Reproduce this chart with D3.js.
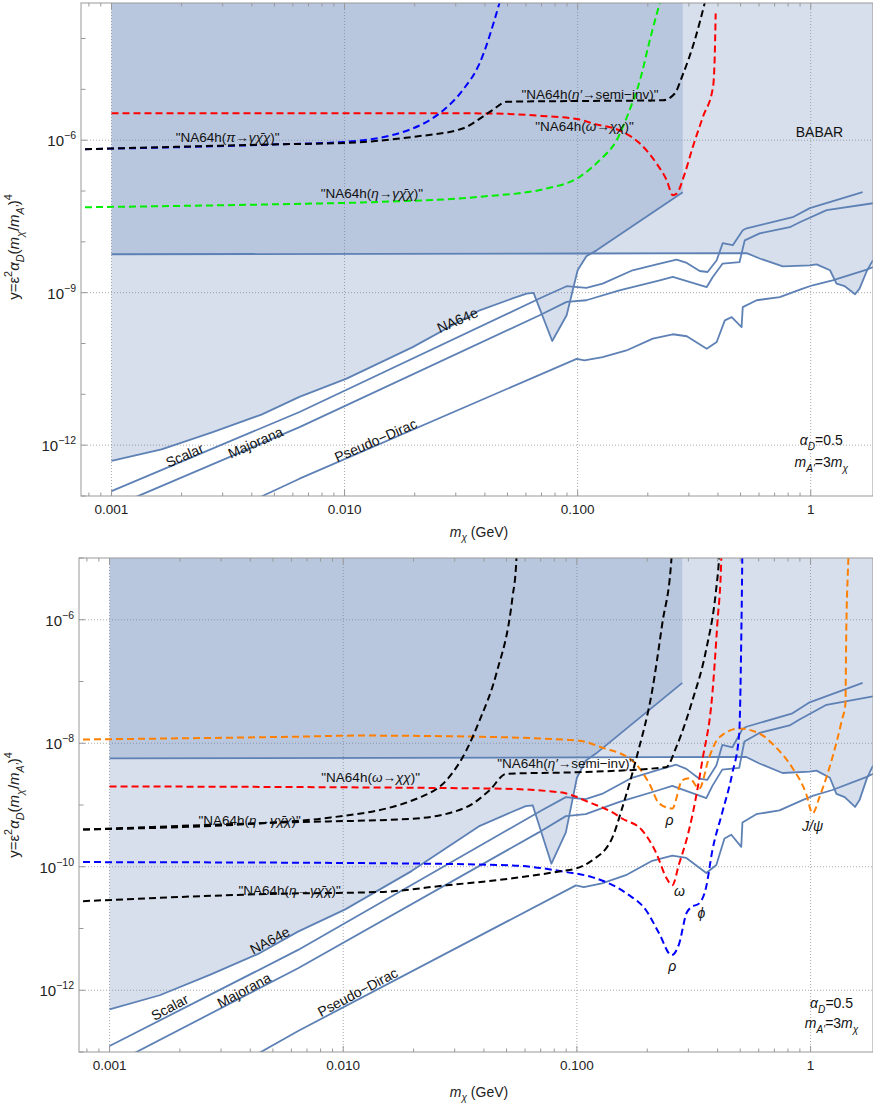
<!DOCTYPE html>
<html>
<head>
<meta charset="utf-8">
<script src="https://cdn.jsdelivr.net/npm/d3@7"></script>
<style>
body { margin: 0; background: #fff; }
svg { display: block; font-family: 'Liberation Sans', Arial, sans-serif; }
</style>
</head>
<body>
<div id="viz-container"></div>
<script>
// ---- axis values ----
var massDomain = [0.00074, 1.85];
var massTicks = [0.001, 0.01, 0.1, 1];
var massTickLabels = ['0.001', '0.010', '0.100', '1'];
var topLabelExps = [-6, -9, -12];
var botLabelExps = [-6, -8, -10, -12];

// ---- solid (experimental bounds / relic targets), same in both panels ----
var na64e = [[0.001,4.9e-13],[0.00164,8.3e-13],[0.0027,1.79e-12],[0.0044,4.0e-12],[0.0064,8.9e-12],[0.0102,2.04e-11],[0.0196,8.5e-11],[0.038,4.5e-10],[0.0526,7.7e-10],[0.0604,9.6e-10],[0.0647,9.9e-10],[0.0778,1.12e-10],[0.0897,3.6e-10],[0.1,2.76e-9],[0.109,5.2e-9],[0.1206,6.8e-9],[0.2825,9.5e-8]];
var babar = [[0.001,5.7e-9],[0.1,5.9e-9],[0.531,6.0e-9],[0.604,4.7e-9],[0.759,3.3e-9],[0.991,3.46e-9],[1.06,3.6e-9],[1.21,2.76e-9],[1.29,1.51e-9],[1.40,1.34e-9],[1.55,9.3e-10],[1.62,1.2e-9],[1.74,2.67e-9],[1.85,4.35e-9]];
var scalar = [[0.001,1.25e-13],[0.00641,4.5e-12],[0.0708,8.2e-10],[0.0897,1.34e-9],[0.109,1.24e-9],[0.128,1.51e-9],[0.172,2.76e-9],[0.225,3.74e-9],[0.266,4.49e-9],[0.294,3.85e-9],[0.334,2.67e-9],[0.361,2.55e-9],[0.395,4.35e-9],[0.419,9.4e-9],[0.463,8.6e-9],[0.511,1.69e-8],[0.531,1.85e-8],[0.837,3.05e-8],[0.991,4.6e-8],[1.67,9.5e-8]];
var majorana = [[0.001,5.9e-14],[0.00129,9.8e-14],[0.00641,2.27e-12],[0.0687,3.6e-10],[0.0897,6.6e-10],[0.109,7.1e-10],[0.151,1.11e-9],[0.225,1.75e-9],[0.256,2.04e-9],[0.358,1.29e-9],[0.38,2.04e-9],[0.419,3.74e-9],[0.495,4.0e-9],[0.505,5.9e-9],[0.521,1.07e-8],[0.604,1.47e-8],[0.813,1.94e-8],[0.897,2.43e-8],[1.17,4.2e-8],[1.85,5.75e-8]];
var pseudoDirac = [[0.004,8.0e-14],[0.0044,9.8e-14],[0.00641,2.19e-13],[0.099,5.0e-11],[0.107,4.67e-11],[0.128,5.4e-11],[0.162,7.3e-11],[0.21,1.25e-10],[0.256,1.52e-10],[0.294,1.39e-10],[0.358,7.9e-11],[0.395,1.07e-10],[0.428,2.86e-10],[0.458,3.3e-10],[0.505,2.1e-10],[0.511,5.2e-10],[0.586,7.1e-10],[0.736,8.2e-10],[0.924,1.2e-9],[1.02,1.4e-9],[1.24,1.75e-9],[1.74,2.85e-9],[1.85,3.2e-9]];

// ---- dashed NA64h projections, upper panel ----
var topOmega = [[0.001,3.4e-6],[0.02,3.4e-6],[0.0431,3.35e-6],[0.07,3.0e-6],[0.102,2.55e-6],[0.116,2.13e-6],[0.156,1.46e-6],[0.185,8.6e-7],[0.218,3.48e-7],[0.241,1.63e-7],[0.256,8.3e-8],[0.266,8.9e-8],[0.288,2.2e-7],[0.312,7.4e-7],[0.345,2.9e-6],[0.381,1.12e-5],[0.388,5.9e-5],[0.391,3.1e-4]];
var topPi = [[0.00077,6.65e-7],[0.00526,8.3e-7],[0.0102,9.3e-7],[0.0196,1.7e-6],[0.0256,3.4e-6],[0.0321,9.6e-6],[0.0379,3.2e-5],[0.0462,5e-4]];
var topEtaPrime = [[0.00077,6.65e-7],[0.00526,8.3e-7],[0.0102,8.85e-7],[0.0196,1.16e-6],[0.0321,1.7e-6],[0.0431,3.9e-6],[0.0495,5.7e-6],[0.1,5.9e-6],[0.232,6.1e-6],[0.261,8.3e-6],[0.282,1.9e-5],[0.318,9.3e-5],[0.351,5e-4]];
var topEta = [[0.00077,4.8e-8],[0.00526,5.5e-8],[0.0141,6.1e-8],[0.038,7.7e-8],[0.0736,1.12e-7],[0.102,1.9e-7],[0.124,4.0e-7],[0.147,1e-6],[0.167,3.9e-6],[0.185,1.5e-5],[0.204,9.3e-5],[0.225,5e-4]];

// ---- dashed NA64h projections, lower panel ----
var botOrange = [[0.00077,1.15e-8],[0.0065,1.28e-8],[0.0117,1.33e-8],[0.0357,1.28e-8],[0.102,1.1e-8],[0.128,8.5e-9],[0.173,5.2e-9],[0.204,2.23e-9],[0.225,1.06e-9],[0.256,8.8e-10],[0.282,2.5e-9],[0.303,2.7e-9],[0.334,1.85e-9],[0.368,5.9e-9],[0.406,1.24e-8],[0.495,1.73e-8],[0.603,1.44e-8],[0.713,8.5e-9],[0.834,4.05e-9],[0.957,1.53e-9],[1.02,7.3e-10],[1.09,1.32e-9],[1.24,5.9e-9],[1.36,2.33e-8],[1.41,4.4e-8],[1.42,4.6e-7],[1.45,9e-6],[1.46,2e-5]];
var botOmega = [[0.001,2.0e-9],[0.0434,1.85e-9],[0.0841,1.61e-9],[0.116,1.06e-9],[0.142,7.6e-10],[0.156,6.05e-10],[0.19,3.9e-10],[0.219,1.64e-10],[0.241,6.7e-11],[0.256,5.0e-11],[0.274,1.13e-10],[0.294,2.67e-10],[0.312,6.8e-10],[0.344,5.2e-9],[0.38,6.4e-8],[0.399,8.6e-7],[0.415,1.0e-5],[0.417,2e-5]];
var botBlue = [[0.00077,1.19e-10],[0.0143,1.14e-10],[0.053,1.05e-10],[0.0901,8.2e-11],[0.116,6.8e-11],[0.163,3.7e-11],[0.198,1.96e-11],[0.225,8.3e-12],[0.254,3.7e-12],[0.274,5.7e-12],[0.294,1.75e-11],[0.308,2.2e-11],[0.334,2.55e-11],[0.357,4.6e-11],[0.38,1.84e-10],[0.419,7.6e-10],[0.462,3.2e-9],[0.495,1.44e-8],[0.505,4.6e-7],[0.51,9e-6],[0.511,2e-5]];
var botBlackPi = [[0.00077,4.0e-10],[0.00533,5.3e-10],[0.00815,6.05e-10],[0.0212,1.32e-9],[0.0276,2.5e-9],[0.0336,7.6e-9],[0.0383,2.33e-8],[0.0452,1.34e-7],[0.053,2.3e-6],[0.055,8.4e-6],[0.0555,2e-5]];
var botBlackEtaPrime = [[0.00077,4.0e-10],[0.00533,5.2e-10],[0.0198,6.0e-10],[0.0336,9.2e-10],[0.0422,1.72e-9],[0.0499,3.2e-9],[0.102,3.4e-9],[0.241,4.1e-9],[0.266,8.6e-9],[0.312,4.9e-8],[0.357,3.2e-7],[0.394,3.0e-6],[0.406,1.0e-5],[0.41,2e-5]];
var botBlackEta = [[0.00077,2.77e-11],[0.00533,3.66e-11],[0.0143,3.9e-11],[0.0276,5.0e-11],[0.053,6.5e-11],[0.0841,8.4e-11],[0.0994,9.4e-11],[0.116,1.26e-10],[0.142,3.0e-10],[0.155,8.1e-10],[0.18,5.9e-9],[0.21,7.1e-8],[0.232,8.7e-7],[0.254,1.0e-5],[0.256,2e-5]];

// ---- label texts ----
var labPi = [['"NA64h('],['π','i'],['→'],['γχ̄χ','i'],[')"']];
var labEta = [['"NA64h('],['η','i'],['→'],['γχ̄χ','i'],[')"']];
var labEtaP = [['"NA64h('],['η′','i'],['→semi−inv)"']];
var labOmega = [['"NA64h('],['ω','i'],['→'],['χχ','i'],[')"']];
var labAlpha = [['α','i'],['D','isub'],['=0.5']];
var labMass = [['m','i'],['A′','isub'],['=3'],['m','i'],['χ','isub']];

var W = 873, H = 1106;
var svg = d3.select('#viz-container').append('svg').attr('width', W).attr('height', H);

function richText(sel, parts, size) {
	var shift = 0;
	parts.forEach(function (p) {
		var s = p[1] || '';
		var t = sel.append('tspan').text(p[0]);
		if (s.indexOf('i') >= 0) t.attr('font-style', 'italic');
		var target = 0;
		if (s.indexOf('sub') >= 0) target = size * 0.32;
		if (s.indexOf('sup') >= 0) target = -size * 0.45;
		if (target !== shift) { t.attr('dy', target - shift); shift = target; }
		if (target !== 0) t.attr('font-size', size * 0.72);
	});
}

function drawPanel(p) {
	var x = d3.scaleLog().domain(massDomain).range([p.left, p.right]);
	var y = d3.scaleLog().domain(p.yDomain).range([p.bottom, p.top]);
	var yTop = p.yDomain[1];
	var clipId = 'clip-' + p.id;
	svg.append('clipPath').attr('id', clipId).append('rect')
		.attr('x', p.left).attr('y', p.top)
		.attr('width', p.right - p.left).attr('height', p.bottom - p.top);

	var g = svg.append('g');
	var plot = g.append('g').attr('clip-path', 'url(#' + clipId + ')');

	// grid
	plot.selectAll('.gx').data(massTicks).enter().append('line')
		.attr('x1', function (d) { return x(d); }).attr('x2', function (d) { return x(d); })
		.attr('y1', p.top).attr('y2', p.bottom)
		.attr('stroke', '#aaa').attr('stroke-width', 1).attr('stroke-dasharray', '1,2');
	plot.selectAll('.gy').data(p.labelExps).enter().append('line')
		.attr('y1', function (d) { return y(Math.pow(10, d)); }).attr('y2', function (d) { return y(Math.pow(10, d)); })
		.attr('x1', p.left).attr('x2', p.right)
		.attr('stroke', '#aaa').attr('stroke-width', 1).attr('stroke-dasharray', '1,2');

	var lin = d3.line().x(function (d) { return x(d[0]); }).y(function (d) { return y(d[1]); });
	var smooth = d3.line().x(function (d) { return x(d[0]); }).y(function (d) { return y(d[1]); }).curve(d3.curveMonotoneX);

	// excluded regions (translucent, overlap gets darker)
	var regions = [
		na64e.concat([[na64e[na64e.length - 1][0], yTop], [0.001, yTop]]),
		babar.concat([[babar[babar.length - 1][0], yTop], [0.001, yTop]])
	];
	plot.selectAll('.reg').data(regions).enter().append('path')
		.attr('d', function (d) { return lin(d) + 'Z'; })
		.attr('fill', '#5e81b5').attr('fill-opacity', 0.25).attr('stroke', 'none');

	// solid lines
	plot.selectAll('.sol').data([na64e, babar, scalar, majorana, pseudoDirac]).enter().append('path')
		.attr('d', lin).attr('fill', 'none')
		.attr('stroke', '#5e81b5').attr('stroke-width', 1.8).attr('stroke-linejoin', 'round');

	// dashed curves
	plot.selectAll('.dash').data(p.dashed).enter().append('path')
		.attr('d', function (d) { return smooth(d.pts); })
		.attr('fill', 'none')
		.attr('stroke', function (d) { return d.color; })
		.attr('stroke-width', 2).attr('stroke-dasharray', '7,4');

	// frame
	g.append('rect').attr('x', p.left).attr('y', p.top)
		.attr('width', p.right - p.left).attr('height', p.bottom - p.top)
		.attr('fill', 'none').attr('stroke', '#999').attr('stroke-width', 1);

	// x ticks
	var minor = [];
	[-4, -3, -2, -1, 0].forEach(function (e) {
		for (var k = 1; k < 10; k++) {
			var v = k * Math.pow(10, e);
			if (v >= massDomain[0] && v <= massDomain[1]) minor.push(v);
		}
	});
	minor.forEach(function (v) {
		var major = massTicks.indexOf(v) >= 0;
		var len = major ? 6 : 3.5;
		g.append('line').attr('x1', x(v)).attr('x2', x(v)).attr('y1', p.bottom).attr('y2', p.bottom - len)
			.attr('stroke', '#999');
		g.append('line').attr('x1', x(v)).attr('x2', x(v)).attr('y1', p.top).attr('y2', p.top + len)
			.attr('stroke', '#999');
	});
	massTicks.forEach(function (v, i) {
		g.append('text').attr('x', x(v)).attr('y', p.bottom + 18)
			.attr('text-anchor', 'middle').attr('font-size', 13.5).attr('fill', '#222')
			.text(massTickLabels[i]);
	});

	// y ticks
	for (var e = -13; e <= Math.floor(Math.log10(yTop)); e++) {
		var yy = y(Math.pow(10, e));
		var lab = p.labelExps.indexOf(e) >= 0;
		g.append('line').attr('x1', p.left).attr('x2', p.left + (lab ? 6 : 4.5)).attr('y1', yy).attr('y2', yy)
			.attr('stroke', '#999');
		if (lab) {
			var t = g.append('text').attr('x', p.left - 5).attr('y', yy + 6)
				.attr('text-anchor', 'end').attr('font-size', 15).attr('fill', '#222');
			t.append('tspan').text('10');
			t.append('tspan').attr('dy', -7).attr('font-size', 10.5).text('−' + (-e));
		}
	}

	// axis titles
	var xt = g.append('text').attr('x', p.xTitle[0]).attr('y', p.xTitle[1])
		.attr('text-anchor', 'middle').attr('font-size', 14).attr('fill', '#222');
	richText(xt, [['m', 'i'], ['χ', 'isub'], [' (GeV)']], 14);
	var yt = g.append('text').attr('transform', 'translate(' + p.yTitle[0] + ',' + p.yTitle[1] + ') rotate(-90)')
		.attr('text-anchor', 'middle').attr('font-size', 15).attr('fill', '#222');
	richText(yt, [['y=ε'], ['2', 'sup'], ['α', 'i'], ['D', 'isub'], ['('], ['m', 'i'], ['χ', 'isub'], ['/'], ['m', 'i'], ['A′', 'isub'], [')'], ['4', 'sup']], 15);

	// annotations in data coordinates
	var ang = Math.atan2(y(1e-10) - y(1e-12), x(0.1) - x(0.01)) * 180 / Math.PI;
	p.labels.forEach(function (l) {
		var size = l.size || 13.5;
		var t = g.append('text')
			.attr('transform', 'translate(' + x(l.at[0]) + ',' + y(l.at[1]) + ')' + (l.rot ? ' rotate(' + ang + ')' : ''))
			.attr('text-anchor', 'middle').attr('dy', '0.35em')
			.attr('font-size', size).attr('fill', '#111');
		richText(t, l.parts, size);
	});
}

drawPanel({
	id: 'top', left: 81, right: 873, top: 3, bottom: 496,
	yDomain: [1e-13, 5e-4], labelExps: topLabelExps,
	xTitle: [479, 537], yTitle: [19, 247],
	dashed: [
		{pts: topOmega, color: '#ff0000'},
		{pts: topPi, color: '#0000ff'},
		{pts: topEtaPrime, color: '#000000'},
		{pts: topEta, color: '#00ee00'}
	],
	labels: [
		{at: [0.00315, 1.15e-6], parts: labPi},
		{at: [0.0131, 9.1e-8], parts: labEta},
		{at: [0.113, 8.0e-6], parts: labEtaP},
		{at: [0.107, 1.9e-6], parts: labOmega},
		{at: [1.09, 1.44e-6], parts: [['BABAR']], size: 14},
		{at: [1.11, 1.24e-12], parts: labAlpha, size: 14},
		{at: [1.11, 4.6e-13], parts: labMass, size: 14},
		{at: [0.0305, 2.86e-10], parts: [['NA64e']], rot: true, size: 14},
		{at: [0.00206, 6.3e-13], parts: [['Scalar']], rot: true, size: 14},
		{at: [0.00415, 1.13e-12], parts: [['Majorana']], rot: true, size: 14},
		{at: [0.0136, 1.24e-12], parts: [['Pseudo−Dirac']], rot: true, size: 14}
	]
});

drawPanel({
	id: 'bot', left: 79, right: 873, top: 558, bottom: 1052,
	yDomain: [1e-13, 1e-5], labelExps: botLabelExps,
	xTitle: [479, 1097], yTitle: [19, 805],
	dashed: [
		{pts: botOrange, color: '#ff8000'},
		{pts: botOmega, color: '#ff0000'},
		{pts: botBlue, color: '#0000ff'},
		{pts: botBlackPi, color: '#000000'},
		{pts: botBlackEtaPrime, color: '#000000'},
		{pts: botBlackEta, color: '#000000'}
	],
	labels: [
		{at: [0.0131, 2.79e-9], parts: labOmega},
		{at: [0.0895, 4.7e-9], parts: labEtaP},
		{at: [0.00398, 5.6e-10], parts: labEta},
		{at: [0.0059, 4.1e-11], parts: labEta},
		{at: [0.249, 5.6e-10], parts: [['ρ', 'i']], size: 14},
		{at: [1.02, 4.5e-10], parts: [['J/ψ', 'i']], size: 14},
		{at: [0.275, 4.0e-11], parts: [['ω', 'i']], size: 14},
		{at: [0.341, 1.75e-11], parts: [['ϕ', 'i']], size: 14},
		{at: [0.256, 2.44e-12], parts: [['ρ', 'i']], size: 14},
		{at: [1.23, 6.1e-13], parts: labAlpha, size: 14},
		{at: [1.23, 2.9e-13], parts: labMass, size: 14},
		{at: [0.00485, 6.4e-12], parts: [['NA64e']], rot: true, size: 14},
		{at: [0.00181, 5.3e-13], parts: [['Scalar']], rot: true, size: 14},
		{at: [0.00376, 1.0e-12], parts: [['Majorana']], rot: true, size: 14},
		{at: [0.01153, 9.3e-13], parts: [['Pseudo−Dirac']], rot: true, size: 14}
	]
});
</script>
</body>
</html>
